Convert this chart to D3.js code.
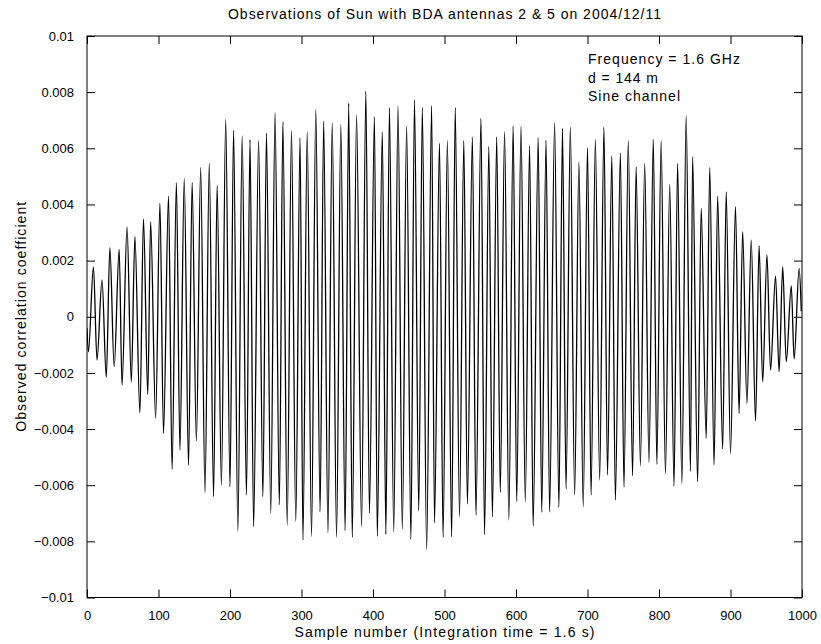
<!DOCTYPE html>
<html>
<head>
<meta charset="utf-8">
<script src="https://cdn.jsdelivr.net/npm/d3@7"></script>
<style>
  html, body { margin: 0; padding: 0; background: #fff; }
  svg text { font-family: "Liberation Sans", Arial, Helvetica, sans-serif; fill: #000; }
</style>
</head>
<body>
<svg id="chart" width="821" height="644"></svg>
<script>
// ---- data ----
const titleText = "Observations of Sun with BDA antennas 2 & 5 on 2004/12/11";
const xLabelText = "Sample number (Integration time = 1.6 s)";
const yLabelText = "Observed correlation coefficient";
const noteLines = ["Frequency = 1.6 GHz", "d = 144 m", "Sine channel"];

const xTicks = [0, 100, 200, 300, 400, 500, 600, 700, 800, 900, 1000];
const yTicks = [-0.01, -0.008, -0.006, -0.004, -0.002, 0, 0.002, 0.004, 0.006, 0.008, 0.01];
const yTickLabels = ["\u22120.01", "\u22120.008", "\u22120.006", "\u22120.004", "\u22120.002", "0", "0.002", "0.004", "0.006", "0.008", "0.01"];

// fringe maxima (sample number, value)
const peakSample = [9, 21, 32, 45, 56, 67, 79, 89, 102, 114, 125, 136, 147, 159, 171, 182, 194, 205, 217, 228, 240, 251, 263,
  274, 286, 298, 308, 320, 331, 343, 355, 366, 377, 390, 402, 413, 423, 435, 447, 458, 469, 482, 493, 504, 515,
  527, 539, 551, 562, 573, 584, 596, 607, 619, 631, 642, 654, 665, 676, 688, 700, 711, 723, 734, 746, 757, 768, 780, 792,
  803, 815, 826, 838, 847, 859, 871, 882, 894, 907, 917, 929, 940, 951, 963, 973, 985, 996];
const peakValue = [0.00178, 0.00131, 0.00246, 0.0024, 0.0032, 0.00285, 0.00348, 0.00338, 0.00404, 0.0043, 0.00478, 0.00492, 0.00478, 0.00531, 0.00546, 0.00467, 0.00703, 0.00665, 0.00644, 0.0063, 0.00628, 0.00654, 0.00728,
  0.00695, 0.00663, 0.00638, 0.00659, 0.00739, 0.00697, 0.00691, 0.00685, 0.0076, 0.00719, 0.00804, 0.00713, 0.00659, 0.00745, 0.00751, 0.00679, 0.00772, 0.00745, 0.00751, 0.00618, 0.00627, 0.00745,
  0.00627, 0.00641, 0.00707, 0.00606, 0.00641, 0.00659, 0.00679, 0.00679, 0.00608, 0.00638, 0.00629, 0.00691, 0.00671, 0.00675, 0.00552, 0.00602, 0.00632, 0.00675, 0.00572, 0.00584, 0.00627, 0.00534, 0.00546, 0.00632,
  0.00627, 0.00471, 0.00546, 0.00716, 0.0057, 0.00386, 0.00531, 0.0043, 0.00445, 0.00392, 0.00303, 0.00273, 0.00253, 0.0022, 0.00145, 0.00178, 0.0011, 0.00172];

// fringe minima (sample number, value)
const troughSample = [2, 14, 27, 38, 49, 62, 74, 85, 96, 107, 119, 130, 142, 153, 165, 177, 188, 200, 211, 223, 233, 246, 257, 269,
  280, 292, 302, 314, 326, 337, 349, 361, 371, 384, 395, 406, 418, 429, 441, 453, 464, 475, 486, 498, 510,
  521, 532, 544, 556, 567, 578, 590, 601, 613, 624, 636, 647, 660, 670, 682, 694, 705, 717, 728, 739, 751, 763, 774, 786, 797,
  809, 821, 832, 844, 854, 866, 877, 889, 900, 912, 923, 935, 945, 956, 968, 978, 989];
const troughValue = [-0.00125, -0.00154, -0.00216, -0.00178, -0.00243, -0.00232, -0.00342, -0.00276, -0.00362, -0.00416, -0.00544, -0.00475, -0.00529, -0.00443, -0.00627, -0.00641, -0.006, -0.00606, -0.00764, -0.00635, -0.00748, -0.00641, -0.007, -0.0067,
  -0.00742, -0.0073, -0.00796, -0.00782, -0.00695, -0.0077, -0.00786, -0.00762, -0.00786, -0.00748, -0.007, -0.00782, -0.00774, -0.00766, -0.00758, -0.00793, -0.00691, -0.00829, -0.00734, -0.00786, -0.00784,
  -0.00713, -0.00667, -0.00707, -0.00776, -0.00713, -0.00626, -0.00724, -0.00659, -0.00659, -0.00745, -0.00697, -0.00695, -0.00679, -0.00614, -0.00635, -0.00677, -0.00635, -0.00582, -0.00564, -0.00653, -0.00608, -0.00567, -0.00531, -0.00519, -0.00526,
  -0.0056, -0.00603, -0.00594, -0.00552, -0.00588, -0.00433, -0.00528, -0.00471, -0.00487, -0.00344, -0.00309, -0.00371, -0.00232, -0.0019, -0.00196, -0.0016, -0.0015];

// first and last samples of the record
const edgeSample = [0, 999];
const edgeValue = [-0.0004, 0.0002];

// ---- chart ----
const svg = d3.select("#chart");
const m = { left: 87, right: 802, top: 36, bottom: 597.5 };

const x = d3.scaleLinear().domain([0, 1000]).range([m.left, m.right]);
const y = d3.scaleLinear().domain([-0.01, 0.01]).range([m.bottom, m.top]);

const pts = [];
peakSample.forEach((s, i) => pts.push([s, peakValue[i]]));
troughSample.forEach((s, i) => pts.push([s, troughValue[i]]));
edgeSample.forEach((s, i) => pts.push([s, edgeValue[i]]));
pts.sort((a, b) => a[0] - b[0]);

const clipId = "plotclip";
svg.append("clipPath").attr("id", clipId).append("rect")
  .attr("x", m.left).attr("y", m.top).attr("width", m.right - m.left).attr("height", m.bottom - m.top);

const line = d3.line().x(d => x(d[0])).y(d => y(d[1])).curve(d3.curveMonotoneX);
svg.append("path").datum(pts)
  .attr("clip-path", `url(#${clipId})`)
  .attr("fill", "none").attr("stroke", "#000").attr("stroke-width", 1.3)
  .attr("d", line);

// axes (MATLAB box with inward ticks on all four sides)
const tickLen = 8;
const fmt = (v, i) => yTickLabels[i];

svg.append("g").attr("transform", `translate(0,${m.bottom})`)
  .call(d3.axisBottom(x).tickValues(xTicks).tickSize(-tickLen).tickPadding(tickLen + 5).tickFormat(d3.format("d")))
  .call(g => g.select(".domain").remove());
svg.append("g").attr("transform", `translate(0,${m.top})`)
  .call(d3.axisTop(x).tickValues(xTicks).tickSize(-tickLen).tickFormat(""))
  .call(g => g.select(".domain").remove());
svg.append("g").attr("transform", `translate(${m.left},0)`)
  .call(d3.axisLeft(y).tickValues(yTicks).tickSize(-tickLen).tickPadding(tickLen + 5).tickFormat(fmt))
  .call(g => g.select(".domain").remove());
svg.append("g").attr("transform", `translate(${m.right},0)`)
  .call(d3.axisRight(y).tickValues(yTicks).tickSize(-tickLen).tickFormat(""))
  .call(g => g.select(".domain").remove());

svg.selectAll(".tick line").attr("stroke", "#000");
svg.selectAll(".tick text").attr("font-size", 13).attr("fill", "#000")
  .style("font-family", "'Liberation Sans', Arial, sans-serif");

svg.append("rect")
  .attr("x", m.left).attr("y", m.top)
  .attr("width", m.right - m.left).attr("height", m.bottom - m.top)
  .attr("fill", "none").attr("stroke", "#000").attr("stroke-width", 1);

// texts
svg.append("text").attr("x", (m.left + m.right) / 2).attr("y", 19)
  .attr("text-anchor", "middle").attr("font-size", 14)
  .attr("textLength", 433).attr("lengthAdjust", "spacing").text(titleText);
svg.append("text").attr("x", (m.left + m.right) / 2).attr("y", 637)
  .attr("text-anchor", "middle").attr("font-size", 14)
  .attr("textLength", 300).attr("lengthAdjust", "spacing").text(xLabelText);
svg.append("text").attr("transform", `translate(26,${(m.top + m.bottom) / 2}) rotate(-90)`)
  .attr("text-anchor", "middle").attr("font-size", 14)
  .attr("textLength", 230).attr("lengthAdjust", "spacing").text(yLabelText);

const noteWidths = [152, 70, 92];
svg.append("g").selectAll("text").data(noteLines).join("text")
  .attr("x", 588).attr("y", (d, i) => 64 + i * 18.5)
  .attr("font-size", 14)
  .attr("textLength", (d, i) => noteWidths[i]).attr("lengthAdjust", "spacing")
  .text(d => d);
</script>
</body>
</html>
